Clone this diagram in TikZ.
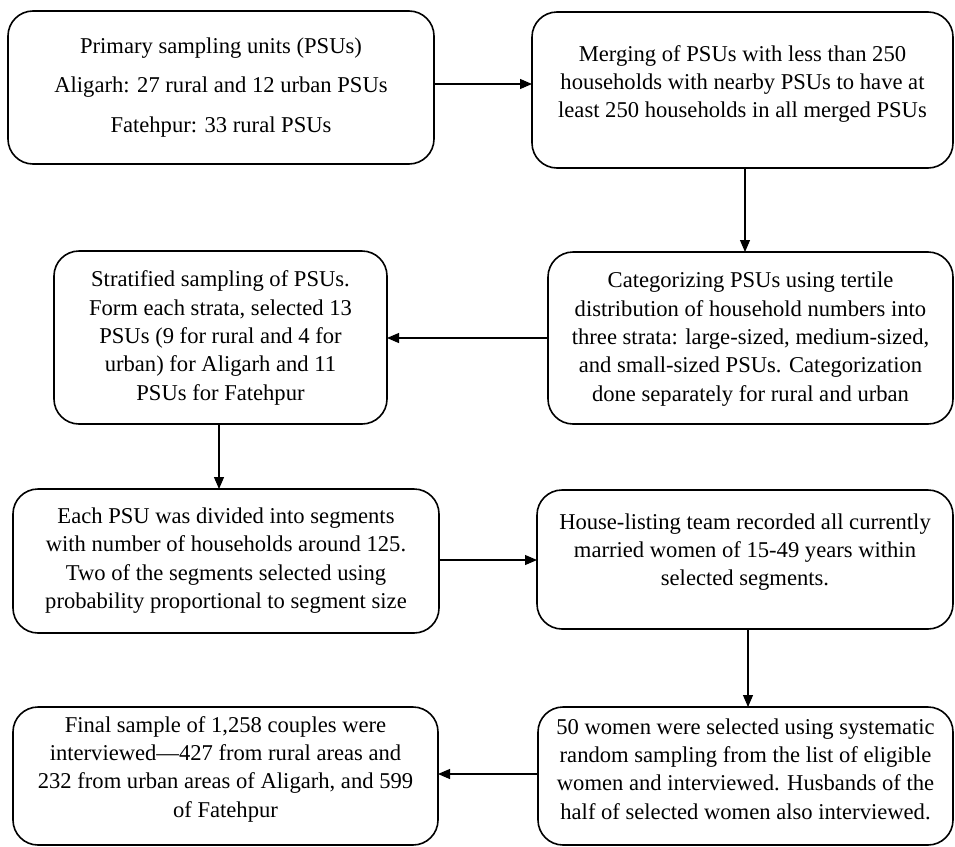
\documentclass[tikz,border=0pt]{standalone}
\usepackage{fontspec}
\setmainfont{Liberation Serif}
\usetikzlibrary{arrows.meta}
\begin{document}
\begin{tikzpicture}[x=1pt,y=-1pt,
  box/.style={draw, line width=1.6pt, rounded corners=25pt, inner sep=0pt, outer sep=0pt},
  txt/.style={align=center, font=\fontsize{22.6}{28.3}\selectfont, inner sep=0pt},
  arr/.style={-{Triangle[length=12pt,width=10pt]}, line width=1.1pt}]
\useasboundingbox (0,0) rectangle (955,846);
% boxes
\node[box, minimum width=426pt, minimum height=153pt] (b1) at (221,87.5) {};
\node[box, minimum width=421pt, minimum height=156pt] (b2) at (742.5,90) {};
\node[box, minimum width=333pt, minimum height=173pt] (b3) at (220.5,337.5) {};
\node[box, minimum width=405pt, minimum height=172pt] (b4) at (750.5,338) {};
\node[box, minimum width=426pt, minimum height=144pt] (b5) at (226,561) {};
\node[box, minimum width=416pt, minimum height=139pt] (b6) at (745,559.5) {};
\node[box, minimum width=425pt, minimum height=138pt] (b7) at (225.5,776) {};
\node[box, minimum width=415pt, minimum height=138pt] (b8) at (745.5,776) {};
% texts
\node[txt] (t1) at (221,87.5) {Primary sampling units (PSUs)\\[11pt]Aligarh: 27 rural and 12 urban PSUs\\[11pt]Fatehpur: 33 rural PSUs};
\node[txt] (t2) at (742.5,84) {Merging of PSUs with less than 250\\households with nearby PSUs to have at\\least 250 households in all merged PSUs};
\node[txt] (t3) at (220.5,338) {Stratified sampling of PSUs.\\Form each strata, selected 13\\PSUs (9 for rural and 4 for\\urban) for Aligarh and 11\\PSUs for Fatehpur};
\node[txt] (t4) at (750.5,339) {Categorizing PSUs using tertile\\distribution of household numbers into\\three strata: large-sized, medium-sized,\\and small-sized PSUs. Categorization\\done separately for rural and urban};
\node[txt] (t5) at (226,560.5) {Each PSU was divided into segments\\with number of households around 125.\\Two of the segments selected using\\probability proportional to segment size};
\node[txt] (t6) at (745,552) {House-listing team recorded all currently\\married women of 15-49 years within\\selected segments.};
\node[txt] (t7) at (225.5,769) {Final sample of 1,258 couples were\\interviewed—427 from rural areas and\\232 from urban areas of Aligarh, and 599\\of Fatehpur};
\node[txt] (t8) at (745.5,769) {50 women were selected using systematic\\random sampling from the list of eligible\\women and interviewed. Husbands of the\\half of selected women also interviewed.};
% connector guides
\coordinate (r1) at (0,84);
\coordinate (c2) at (745,0);
\coordinate (c3) at (219,0);
\coordinate (r5) at (0,560);
\coordinate (c6) at (748,0);
\coordinate (r8) at (0,774);
% connectors
\draw[arr] (b1.east |- r1) -- (b2.west |- r1);
\draw[arr] (b2.south -| c2) -- (b4.north -| c2);
\draw[arr] (b4.west) -- (b3.east |- b4.west);
\draw[arr] (b3.south -| c3) -- (b5.north -| c3);
\draw[arr] (b5.east |- r5) -- (b6.west |- r5);
\draw[arr] (b6.south -| c6) -- (b8.north -| c6);
\draw[arr] (b8.west |- r8) -- (b7.east |- r8);
\end{tikzpicture}
\end{document}
